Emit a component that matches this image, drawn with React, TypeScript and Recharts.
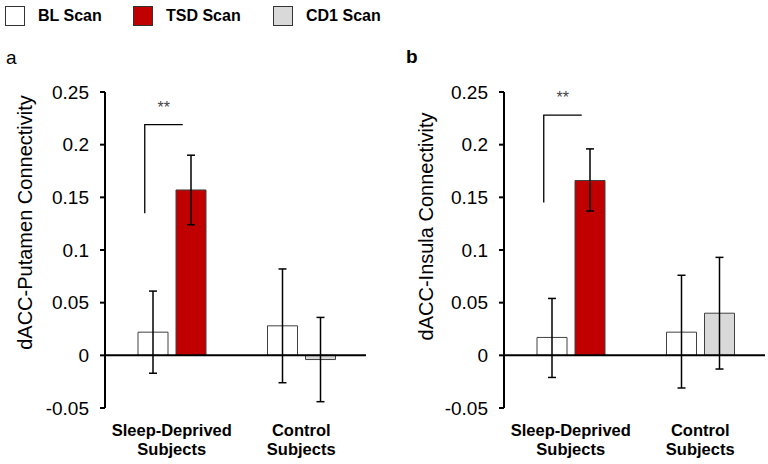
import { BarChart, Bar, Cell, XAxis, YAxis, ErrorBar, ReferenceLine, Label } from 'recharts';

const FONT = 'Arial, "Liberation Sans", sans-serif';

const groups = ['Sleep-Deprived Subjects', 'Control Subjects'];
const followScans = ['TSD Scan', 'CD1 Scan'];
const yTicks = [-0.05, 0, 0.05, 0.1, 0.15, 0.2, 0.25];

// panel a: dACC-Putamen
const putamenBL = [0.022, 0.028];
const putamenBLLow = [-0.017, -0.026];
const putamenBLHigh = [0.061, 0.082];
const putamenFollow = [0.157, -0.004];
const putamenFollowLow = [0.124, -0.044];
const putamenFollowHigh = [0.19, 0.036];
const putamenBracket = [0.135, 0.219];

// panel b: dACC-Insula
const insulaBL = [0.017, 0.022];
const insulaBLLow = [-0.021, -0.031];
const insulaBLHigh = [0.054, 0.076];
const insulaFollow = [0.166, 0.04];
const insulaFollowLow = [0.137, -0.013];
const insulaFollowHigh = [0.196, 0.093];
const insulaBracket = [0.145, 0.228];

const COLORS: Record<string, string> = {
  'BL Scan': '#FFFFFF',
  'TSD Scan': '#C00000',
  'CD1 Scan': '#D9D9D9',
};

function buildRows(bl: number[], blLow: number[], blHigh: number[], fu: number[], fuLow: number[], fuHigh: number[]) {
  return groups.map((g, i) => ({
    group: g,
    bl: bl[i],
    blErr: [bl[i] - blLow[i], blHigh[i] - bl[i]],
    fu: fu[i],
    fuErr: [fu[i] - fuLow[i], fuHigh[i] - fu[i]],
  }));
}

function CategoryTick(props: any) {
  const { x, y, payload } = props;
  const words = String(payload.value).split(' ');
  return (
    <text x={x} y={y} textAnchor="middle" fontFamily={FONT} fontSize={16.5} fontWeight="bold" fill="#000">
      <tspan x={x} dy={28}>{words[0]}</tspan>
      <tspan x={x} dy={19}>{words[1]}</tspan>
    </text>
  );
}

function bracketShape(props: any) {
  const { x1, y1, y2 } = props;
  const low = Math.max(y1, y2);
  const high = Math.min(y1, y2);
  return (
    <g>
      <path d={`M ${x1 - 27} ${low} V ${high} H ${x1 + 11}`} fill="none" stroke="#000" strokeWidth={1.3} />
      <text x={x1 - 8} y={high - 12} textAnchor="middle" fontFamily={FONT} fontSize={16} fill="#444">**</text>
    </g>
  );
}

interface PanelProps {
  rows: any[];
  bracket: number[];
  yLabel: string;
  axisWidth: number;
  right: number;
  labelX: number;
  labelDy: number;
}

function Panel({ rows, bracket, yLabel, axisWidth, right, labelX, labelDy }: PanelProps) {
  return (
    <BarChart
      width={384}
      height={464}
      data={rows}
      margin={{ top: 92, right, bottom: 6, left: 0 }}
      barSize={30}
      barGap={8}
      style={{ fontFamily: FONT }}
    >
      <XAxis
        dataKey="group"
        axisLine={false}
        tickLine={false}
        tickSize={0}
        tickMargin={0}
        height={50}
        padding={{ left: 2, right: 0 }}
        tick={<CategoryTick />}
        interval={0}
      />
      <YAxis
        domain={[-0.05, 0.25]}
        ticks={yTicks}
        width={axisWidth}
        allowDataOverflow
        axisLine={{ stroke: '#000', strokeWidth: 2 }}
        tickLine={{ stroke: '#000', strokeWidth: 2 }}
        tickSize={5}
        tickMargin={11}
        tick={{ fontSize: 19, fill: '#000', fontFamily: FONT }}
      >
        <Label
          content={({ viewBox }: any) => (
            <text
              x={viewBox.x + labelX}
              y={viewBox.y + viewBox.height / 2 + labelDy}
              transform={`rotate(-90, ${viewBox.x + labelX}, ${viewBox.y + viewBox.height / 2 + labelDy})`}
              textAnchor="middle"
              dominantBaseline="central"
              fontFamily={FONT}
              fontSize={20}
              fill="#000"
            >
              {yLabel}
            </text>
          )}
        />
      </YAxis>
      <Bar dataKey="bl" fill={COLORS['BL Scan']} stroke="#404040" strokeWidth={1} isAnimationActive={false}>
        <ErrorBar dataKey="blErr" width={4} stroke="#000" strokeWidth={1.5} direction="y" />
      </Bar>
      <Bar dataKey="fu" stroke="#404040" strokeWidth={1} isAnimationActive={false}>
        {rows.map((_, i) => (
          <Cell key={i} fill={COLORS[followScans[i]]} />
        ))}
        <ErrorBar dataKey="fuErr" width={4} stroke="#000" strokeWidth={1.5} direction="y" />
      </Bar>
      <ReferenceLine y={0} stroke="#000" strokeWidth={2} />
      <ReferenceLine
        segment={[
          { x: groups[0], y: bracket[0] },
          { x: groups[0], y: bracket[1] },
        ]}
        ifOverflow="visible"
        shape={bracketShape}
      />
    </BarChart>
  );
}

const legendItems = ['BL Scan', 'TSD Scan', 'CD1 Scan'];
const legendLeft = [5, 133, 273];

export default function App() {
  const rowsA = buildRows(putamenBL, putamenBLLow, putamenBLHigh, putamenFollow, putamenFollowLow, putamenFollowHigh);
  const rowsB = buildRows(insulaBL, insulaBLLow, insulaBLHigh, insulaFollow, insulaFollowLow, insulaFollowHigh);
  return (
    <div style={{ position: 'absolute', left: 0, top: 0, width: 768, height: 464, background: '#fff', fontFamily: FONT }}>
      {legendItems.map((name, i) => (
        <div key={name} style={{ position: 'absolute', left: legendLeft[i], top: 6, display: 'flex', alignItems: 'center', height: 20 }}>
          <div style={{ width: 18, height: 18, background: COLORS[name], border: '1.5px solid #333' }} />
          <span style={{ marginLeft: 13, fontSize: 16, fontWeight: 'bold', color: '#000' }}>{name}</span>
        </div>
      ))}
      <div style={{ position: 'absolute', left: 6, top: 47, fontSize: 19 }}>a</div>
      <div style={{ position: 'absolute', left: 406, top: 46, fontSize: 19, fontWeight: 'bold' }}>b</div>
      <div style={{ position: 'absolute', left: 0, top: 0 }}>
        <Panel rows={rowsA} bracket={putamenBracket} yLabel="dACC-Putamen Connectivity" axisWidth={105} right={18} labelX={25} labelDy={-27.5} />
      </div>
      <div style={{ position: 'absolute', left: 384, top: 0 }}>
        <Panel rows={rowsB} bracket={insulaBracket} yLabel="dACC-Insula Connectivity" axisWidth={120} right={3} labelX={42} labelDy={-23.5} />
      </div>
    </div>
  );
}
